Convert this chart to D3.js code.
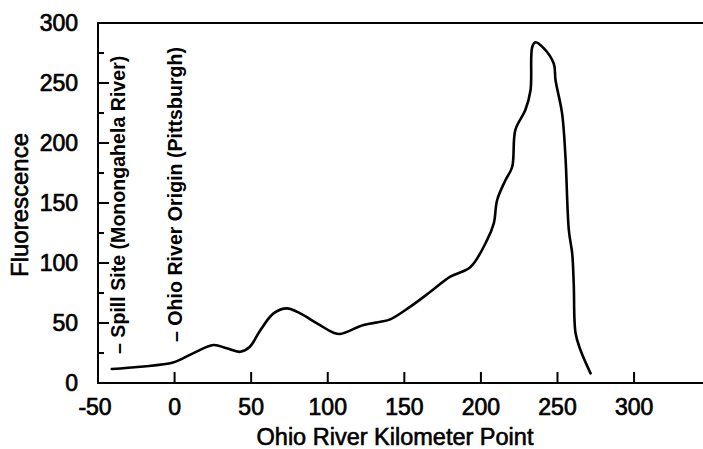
<!DOCTYPE html>
<html>
<head>
<meta charset="utf-8">
<script src="https://cdn.jsdelivr.net/npm/d3@7"></script>
<style>
  body { margin: 0; background: #fff; }
  svg { display: block; font-family: Arial, "Liberation Sans", sans-serif; }
</style>
</head>
<body>
<div id="chart"></div>
<script>
// kilometer point along the river vs. fluorescence
var kmPoints = [-41, -22.5, -1, 12, 25.4, 34, 42.8, 49, 56, 64.6, 73.3, 82, 93, 103.8,
  108, 123.4, 134.3, 140.8, 153.9, 167, 180, 193, 204, 208.4, 210.6, 216, 220.4, 222.5,
  229, 232.4, 233.5, 235.6, 241, 247.6, 248.7, 253, 255.2, 257.4, 259.6, 260.6, 261.8,
  265, 271.6];
var fluorescence = [11.7, 13.6, 17, 24.7, 31.7, 28.9, 26, 30, 44, 58, 62.2, 58, 49.7, 41.9,
  40.8, 48.3, 51, 53, 63.6, 76, 88.6, 96.4, 119, 133, 152.5, 169, 180, 211,
  227.5, 244, 280, 284, 279, 266, 252.5, 224.7, 188.6, 127.5, 108, 83, 41.4,
  27.5, 8];

var xTicks = [-50, 0, 50, 100, 150, 200, 250, 300];
var yTicks = [0, 50, 100, 150, 200, 250, 300];
var yMinorTicks = [25, 75, 125, 175, 225, 275];

var annotations = [
  { km: -37, text: '\u2013 Spill Site (Monongahela River)', start: 354 },
  { km: 0, text: '\u2013 Ohio River Origin (Pittsburgh)', start: 342 }
];

function drawChart() {
  var width = 703, height = 449;
  var plotLeft = 98, plotRight = 703, plotTop = 23, plotBottom = 383;

  var svg = d3.select('#chart').append('svg')
      .attr('width', width)
      .attr('height', height);

  var x = d3.scaleLinear().domain([-50, 345]).range([plotLeft, plotRight]);
  var y = d3.scaleLinear().domain([0, 300]).range([plotBottom, plotTop]);

  var data = kmPoints.map(function(k, i) { return { km: k, f: fluorescence[i] }; });

  // frame: left axis, bottom axis, top rule
  var frame = svg.append('g')
      .attr('stroke', '#000')
      .attr('stroke-width', 2)
      .attr('fill', 'none');
  frame.append('line').attr('x1', plotLeft).attr('x2', plotLeft).attr('y1', plotTop).attr('y2', plotBottom);
  frame.append('line').attr('x1', plotLeft - 1).attr('x2', plotRight).attr('y1', plotBottom).attr('y2', plotBottom);
  frame.append('line').attr('x1', plotLeft - 1).attr('x2', plotRight).attr('y1', plotTop).attr('y2', plotTop);

  // tick marks as one path: y ticks point right, x ticks point up
  var tickPath = d3.path();
  yTicks.slice(1, -1).forEach(function(d) {
    tickPath.moveTo(plotLeft, y(d));
    tickPath.lineTo(plotLeft + 11, y(d));
  });
  yMinorTicks.forEach(function(d) {
    tickPath.moveTo(plotLeft, y(d));
    tickPath.lineTo(plotLeft + 6, y(d));
  });
  xTicks.slice(1).forEach(function(d) {
    tickPath.moveTo(x(d), plotBottom);
    tickPath.lineTo(x(d), plotBottom - 11);
  });

  svg.append('path')
      .attr('d', tickPath.toString())
      .attr('fill', 'none')
      .attr('stroke', '#000')
      .attr('stroke-width', 2);

  svg.append('g')
      .selectAll('text')
      .data(yTicks)
      .enter().append('text')
        .attr('x', 78)
        .attr('y', function(d) { return y(d) + 8; })
        .attr('text-anchor', 'end')
        .attr('font-size', 23)
        .attr('stroke', '#000')
        .attr('stroke-width', 0.7)
        .text(function(d) { return d; });

  svg.append('g')
      .selectAll('text')
      .data(xTicks)
      .enter().append('text')
        .attr('x', function(d) { return x(d) - (d < 0 ? 3 : 0); })
        .attr('y', 415)
        .attr('text-anchor', 'middle')
        .attr('font-size', 23)
        .attr('stroke', '#000')
        .attr('stroke-width', 0.7)
        .text(function(d) { return d; });

  // axis titles
  svg.append('text')
      .attr('x', 395)
      .attr('y', 445)
      .attr('text-anchor', 'middle')
      .attr('font-size', 23.5)
      .attr('stroke', '#000')
      .attr('stroke-width', 0.6)
      .text('Ohio River Kilometer Point');

  svg.append('text')
      .attr('transform', 'translate(28,205) rotate(-90)')
      .attr('text-anchor', 'middle')
      .attr('font-size', 24)
      .attr('stroke', '#000')
      .attr('stroke-width', 0.6)
      .text('Fluorescence');

  // site annotations, written vertically
  svg.append('g')
      .selectAll('text')
      .data(annotations)
      .enter().append('text')
        .attr('transform', function(d) {
          return 'translate(' + (x(d.km) + 7) + ',' + d.start + ') rotate(-90)';
        })
        .attr('font-size', 19.6)
        .attr('font-weight', 'bold')
        .text(function(d) { return d.text; });

  // the fluorescence trace
  var line = d3.line()
      .x(function(d) { return x(d.km); })
      .y(function(d) { return y(d.f); })
      .curve(d3.curveCatmullRom.alpha(0.5));

  svg.append('path')
      .datum(data)
      .attr('d', line)
      .attr('fill', 'none')
      .attr('stroke', '#000')
      .attr('stroke-width', 2.6)
      .attr('stroke-linejoin', 'round')
      .attr('stroke-linecap', 'round');
}

drawChart();
</script>
</body>
</html>
